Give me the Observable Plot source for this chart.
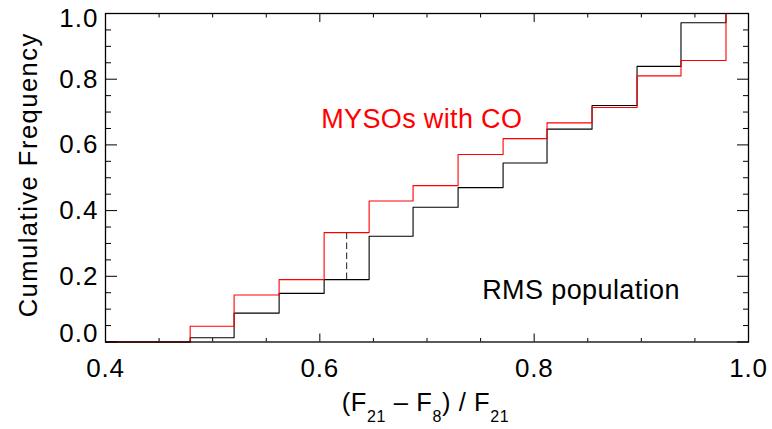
<!DOCTYPE html>
<html><head><meta charset="utf-8">
<script src="https://cdn.jsdelivr.net/npm/d3@7"></script>
<script src="https://cdn.jsdelivr.net/npm/@observablehq/plot@0.6"></script>
<style>
body{margin:0;background:#fff;}
.ytl text{letter-spacing:1px}
.xtl text{letter-spacing:0.8px}
.ann-red text{letter-spacing:0.35px}
.ann-black text{letter-spacing:0.4px}
.ytitle text{letter-spacing:1.5px}
.xtitle text{letter-spacing:0.6px}
</style></head><body><div id="chart"></div>
<script>
// bin edges of the cumulative histograms (x)
const binEdges = [0.479, 0.520, 0.562, 0.604, 0.646, 0.687, 0.729, 0.771, 0.812, 0.854, 0.896, 0.937, 0.979];
// cumulative frequency reached at each edge
const rmsCum  = [0.013, 0.088, 0.148, 0.190, 0.322, 0.410, 0.470, 0.545, 0.648, 0.720, 0.839, 0.972, 1.0];
const mysoCum = [0.048, 0.143, 0.190, 0.333, 0.429, 0.476, 0.571, 0.619, 0.667, 0.714, 0.810, 0.857, 1.0];
// KS maximum-distance marker
const ksX = [0.625];
const ksLow = [0.190];
const ksHigh = [0.333];
// axes
const xDomain = [0.4, 1.0];
const yDomain = [0, 1];
const xLabelTicks = [0.4, 0.6, 0.8, 1.0];
const xMinorTicks = [0.45, 0.5, 0.55, 0.65, 0.7, 0.75, 0.85, 0.9, 0.95];
const yLabelTicks = [0.2, 0.4, 0.6, 0.8];
const yMajorTicks = [0, 0.2, 0.4, 0.6, 0.8, 1.0];
const yMinorTicks = [0.05, 0.1, 0.15, 0.25, 0.3, 0.35, 0.45, 0.5, 0.55, 0.65, 0.7, 0.75, 0.85, 0.9, 0.95];
const labelMyso = ["MYSOs with CO"];
const labelRms = ["RMS population"];
const yTitle = ["Cumulative Frequency"];
const xTitleParts = [["(F", 0], ["21", 1], [" \u2013 F", 0], ["8", 1], [") / F", 0], ["21", 1]];

function steps(cum) {
  return [{x: xDomain[0], y: 0}, ...binEdges.map((e, i) => ({x: e, y: cum[i]})), {x: xDomain[1], y: cum[cum.length - 1]}];
}
const rmsPts = steps(rmsCum);
const mysoPts = steps(mysoCum);
const ks = ksX.map((x, i) => ({x, y1: ksLow[i], y2: ksHigh[i]}));
const fmt = d3.format(".1f");

const chart = Plot.plot({
  width: 772, height: 429,
  marginLeft: 105, marginRight: 24, marginTop: 13, marginBottom: 87.5,
  x: {domain: xDomain},
  y: {domain: yDomain},
  style: {fontFamily: "'Liberation Sans', Arial, Helvetica, sans-serif", color: "black", background: "white", overflow: "visible"},
  marks: [
    Plot.line(rmsPts, {x: "x", y: "y", curve: "step-after", stroke: "black", strokeWidth: 1.1}),
    Plot.line(mysoPts, {x: "x", y: "y", curve: "step-after", stroke: "#ff0000", strokeWidth: 1.1}),
    Plot.ruleX(ks, {x: "x", y1: "y1", y2: "y2", stroke: "#333", strokeWidth: 1.1, strokeDasharray: "6.5,3.5"}),
    Plot.frame({stroke: "black", strokeWidth: 1.3}),
    // bottom ticks
    Plot.axisX(xMinorTicks, {anchor: "bottom", tickSize: -3.5, fill: "none", label: null}),
    Plot.axisX(xLabelTicks, {anchor: "bottom", tickSize: -8, tickPadding: 24.5, fontSize: 26, tickFormat: fmt, label: null, className: "xtl"}),
    // top ticks
    Plot.axisX(xMinorTicks, {anchor: "top", tickSize: -3.5, fill: "none", label: null}),
    Plot.axisX(xLabelTicks, {anchor: "top", tickSize: -8, fill: "none", label: null}),
    // left ticks
    Plot.axisY(yMinorTicks, {anchor: "left", tickSize: -6, fill: "none", label: null}),
    Plot.axisY(yMajorTicks, {anchor: "left", tickSize: -12, fill: "none", label: null}),
    Plot.axisY(yLabelTicks, {anchor: "left", tickSize: 0, tickPadding: 7, fontSize: 26, tickFormat: fmt, label: null, className: "ytl"}),
    Plot.axisY([yDomain[1]], {anchor: "left", tickSize: 0, tickPadding: 7, dy: 5.5, fontSize: 26, tickFormat: fmt, label: null, className: "ytl"}),
    Plot.axisY([yDomain[0]], {anchor: "left", tickSize: 0, tickPadding: 7, dy: -8.5, fontSize: 26, tickFormat: fmt, label: null, className: "ytl"}),
    // right ticks
    Plot.axisY(yMinorTicks, {anchor: "right", tickSize: -6, fill: "none", label: null}),
    Plot.axisY(yMajorTicks, {anchor: "right", tickSize: -12, fill: "none", label: null}),
    // annotations
    Plot.text(labelMyso, {x: 0.6013, y: 0.651, text: d => d, textAnchor: "start", lineAnchor: "bottom", fontSize: 27, fill: "#ff0000", className: "ann-red"}),
    Plot.text(labelRms, {x: 0.7515, y: 0.1315, text: d => d, textAnchor: "start", lineAnchor: "bottom", fontSize: 27, fill: "black", className: "ann-black"}),
    // axis titles
    Plot.text(yTitle, {frameAnchor: "left", text: d => d, rotate: -90, dx: -68.3, dy: -3, lineAnchor: "bottom", textAnchor: "middle", fontSize: 25.5, fill: "black", className: "ytitle"}),
    Plot.text([xTitleParts.map(p => p[0]).join("")], {frameAnchor: "bottom", text: d => d, dx: -1.5, dy: 68.5, lineAnchor: "bottom", textAnchor: "middle", fontSize: 25.5, fill: "black", className: "xtitle"})
  ]
});
document.getElementById("chart").appendChild(chart);

// typeset subscripts in the x-axis title
const joined = xTitleParts.map(p => p[0]).join("");
let t = chart.querySelector(".xtitle text");
if (!t) t = Array.from(chart.querySelectorAll("text")).find(e => e.textContent === joined);
if (t) {
  const sel = d3.select(t);
  sel.text(null);
  let level = 0;
  xTitleParts.forEach(([s, sub]) => {
    const ts = sel.append("tspan").text(s);
    const shift = (sub - level) * 11.7;
    if (shift) ts.attr("dy", shift);
    if (sub) ts.attr("font-size", 16);
    level = sub;
  });
}
</script>
</body></html>
